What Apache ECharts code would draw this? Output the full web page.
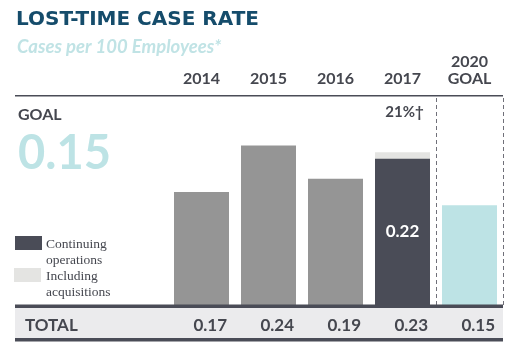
<!DOCTYPE html>
<html>
<head>
<meta charset="utf-8">
<script src="https://cdn.jsdelivr.net/npm/echarts@6/dist/echarts.min.js"></script>
<style>
  html, body { margin: 0; padding: 0; background: #fff; }
  #chart { width: 520px; height: 353px; }
</style>
</head>
<body>
<div id="chart"></div>
<script>
// data
var years = ['2014', '2015', '2016', '2017', '2020\nGOAL'];
var rates = [0.17, 0.24, 0.19, 0.22, 0.15];          // main bars
var withAcq = [null, null, null, 0.23, null];         // 2017 incl. acquisitions
var totals = [0.17, 0.24, 0.19, 0.23, 0.15];
var acqNote = '21%†';
var goal = 0.15;

var DARK = '#4a4c57';
var GRAY = '#959595';
var LIGHT = '#e4e4e2';
var TEAL = '#bde3e5';
var TXT = '#45474f';

var chart = echarts.init(document.getElementById('chart'));

var mainData = rates.map(function (v, i) {
  var c = GRAY;
  if (i === 3) c = DARK;
  if (i === 4) c = TEAL;
  var item = { value: v, itemStyle: { color: c } };
  if (i === 3) {
    item.label = {
      show: true, position: 'inside', color: '#fff',
      fontFamily: 'Lato', fontWeight: 'bold', fontSize: 17,
      formatter: function (p) { return p.value.toFixed(2); }
    };
  }
  return item;
});

var acqData = withAcq.map(function (v) {
  if (v == null) return null;
  return {
    value: v,
    label: {
      show: true, position: 'top', distance: 32, offset: [2, 0],
      color: TXT, fontFamily: 'Lato', fontWeight: 'bold', fontSize: 15,
      formatter: acqNote
    }
  };
});

var option = {
  animation: false,
  title: [
    {
      text: 'LOST-TIME CASE RATE', left: 16, top: 10, padding: 0,
      textStyle: { color: '#154c6b', fontFamily: 'DejaVu Sans', fontWeight: 'bold', fontSize: 20 }
    },
    {
      text: 'Cases per 100 Employees*', left: 17, top: 38, padding: 0,
      textStyle: { color: '#c0e3e5', fontFamily: 'Lato', fontStyle: 'italic', fontWeight: 'bold', fontSize: 18.5 }
    },
    {
      text: 'GOAL', left: 18, top: 107, padding: 0,
      textStyle: { color: TXT, fontFamily: 'Lato', fontWeight: 'bold', fontSize: 16 }
    },
    {
      text: goal.toFixed(2), left: 18, top: 130, padding: 0,
      textStyle: { color: TEAL, fontFamily: 'Lato', fontWeight: 'bold', fontSize: 47 }
    }
  ],
  grid: { left: 168, right: 17, top: 95, bottom: 48 },
  xAxis: [
    {
      type: 'category', position: 'top', data: years,
      axisLine: { show: false }, axisTick: { show: false },
      axisLabel: {
        color: TXT, fontFamily: 'Lato', fontWeight: 'bold', fontSize: 16,
        margin: 8, lineHeight: 17, interval: 0
      }
    },
    {
      type: 'category', position: 'bottom', data: totals.map(function (v) { return v.toFixed(2); }),
      axisLine: { show: false }, axisTick: { show: false },
      axisLabel: {
        interval: 0, margin: 12,
        formatter: function (v) { return '{a|' + v + '}'; },
        rich: { a: { width: 51, align: 'right', color: TXT, fontFamily: 'Lato', fontWeight: 'bold', fontSize: 17 } }
      }
    },
    { type: 'value', min: 0, max: 5, show: false }
  ],
  yAxis: { type: 'value', min: 0, max: 0.316, show: false },
  series: [
    {
      name: 'Including acquisitions', type: 'bar', xAxisIndex: 0,
      barWidth: 55, barGap: '-100%', z: 2,
      itemStyle: { color: LIGHT }, data: acqData
    },
    {
      name: 'Continuing operations', type: 'bar', xAxisIndex: 0,
      barWidth: 55, barGap: '-100%', z: 3, data: mainData
    },
    {
      type: 'line', xAxisIndex: 2, data: [], silent: true,
      markLine: {
        symbol: 'none', silent: true, label: { show: false },
        lineStyle: { color: '#707079', type: [4, 3], width: 1 },
        data: [{ xAxis: 4 }, { xAxis: 5 }]
      }
    }
  ],
  graphic: [
    // top rule
    { type: 'rect', shape: { x: 15, y: 95, width: 488, height: 1.5 }, style: { fill: DARK } },
    // total row
    { type: 'rect', shape: { x: 15, y: 308, width: 488, height: 30 }, style: { fill: '#ebebed' } },
    { type: 'rect', shape: { x: 15, y: 304.5, width: 488, height: 3.5 }, style: { fill: DARK }, z: 10 },
    { type: 'rect', shape: { x: 15, y: 338, width: 488, height: 3.5 }, style: { fill: DARK } },
    {
      type: 'text', left: 25, top: 317,
      style: { text: 'TOTAL', fill: TXT, font: 'bold 17px Lato' }
    },
    // legend
    { type: 'rect', shape: { x: 15, y: 236, width: 27, height: 14 }, style: { fill: DARK } },
    {
      type: 'text', left: 46, top: 236,
      style: { text: 'Continuing\noperations', fill: TXT, font: '13.5px "Liberation Serif"', lineHeight: 16 }
    },
    { type: 'rect', shape: { x: 14, y: 268, width: 27, height: 14 }, style: { fill: LIGHT } },
    {
      type: 'text', left: 46, top: 268,
      style: { text: 'Including\nacquisitions', fill: TXT, font: '13.5px "Liberation Serif"', lineHeight: 16 }
    }
  ]
};

chart.setOption(option);
</script>
</body>
</html>
